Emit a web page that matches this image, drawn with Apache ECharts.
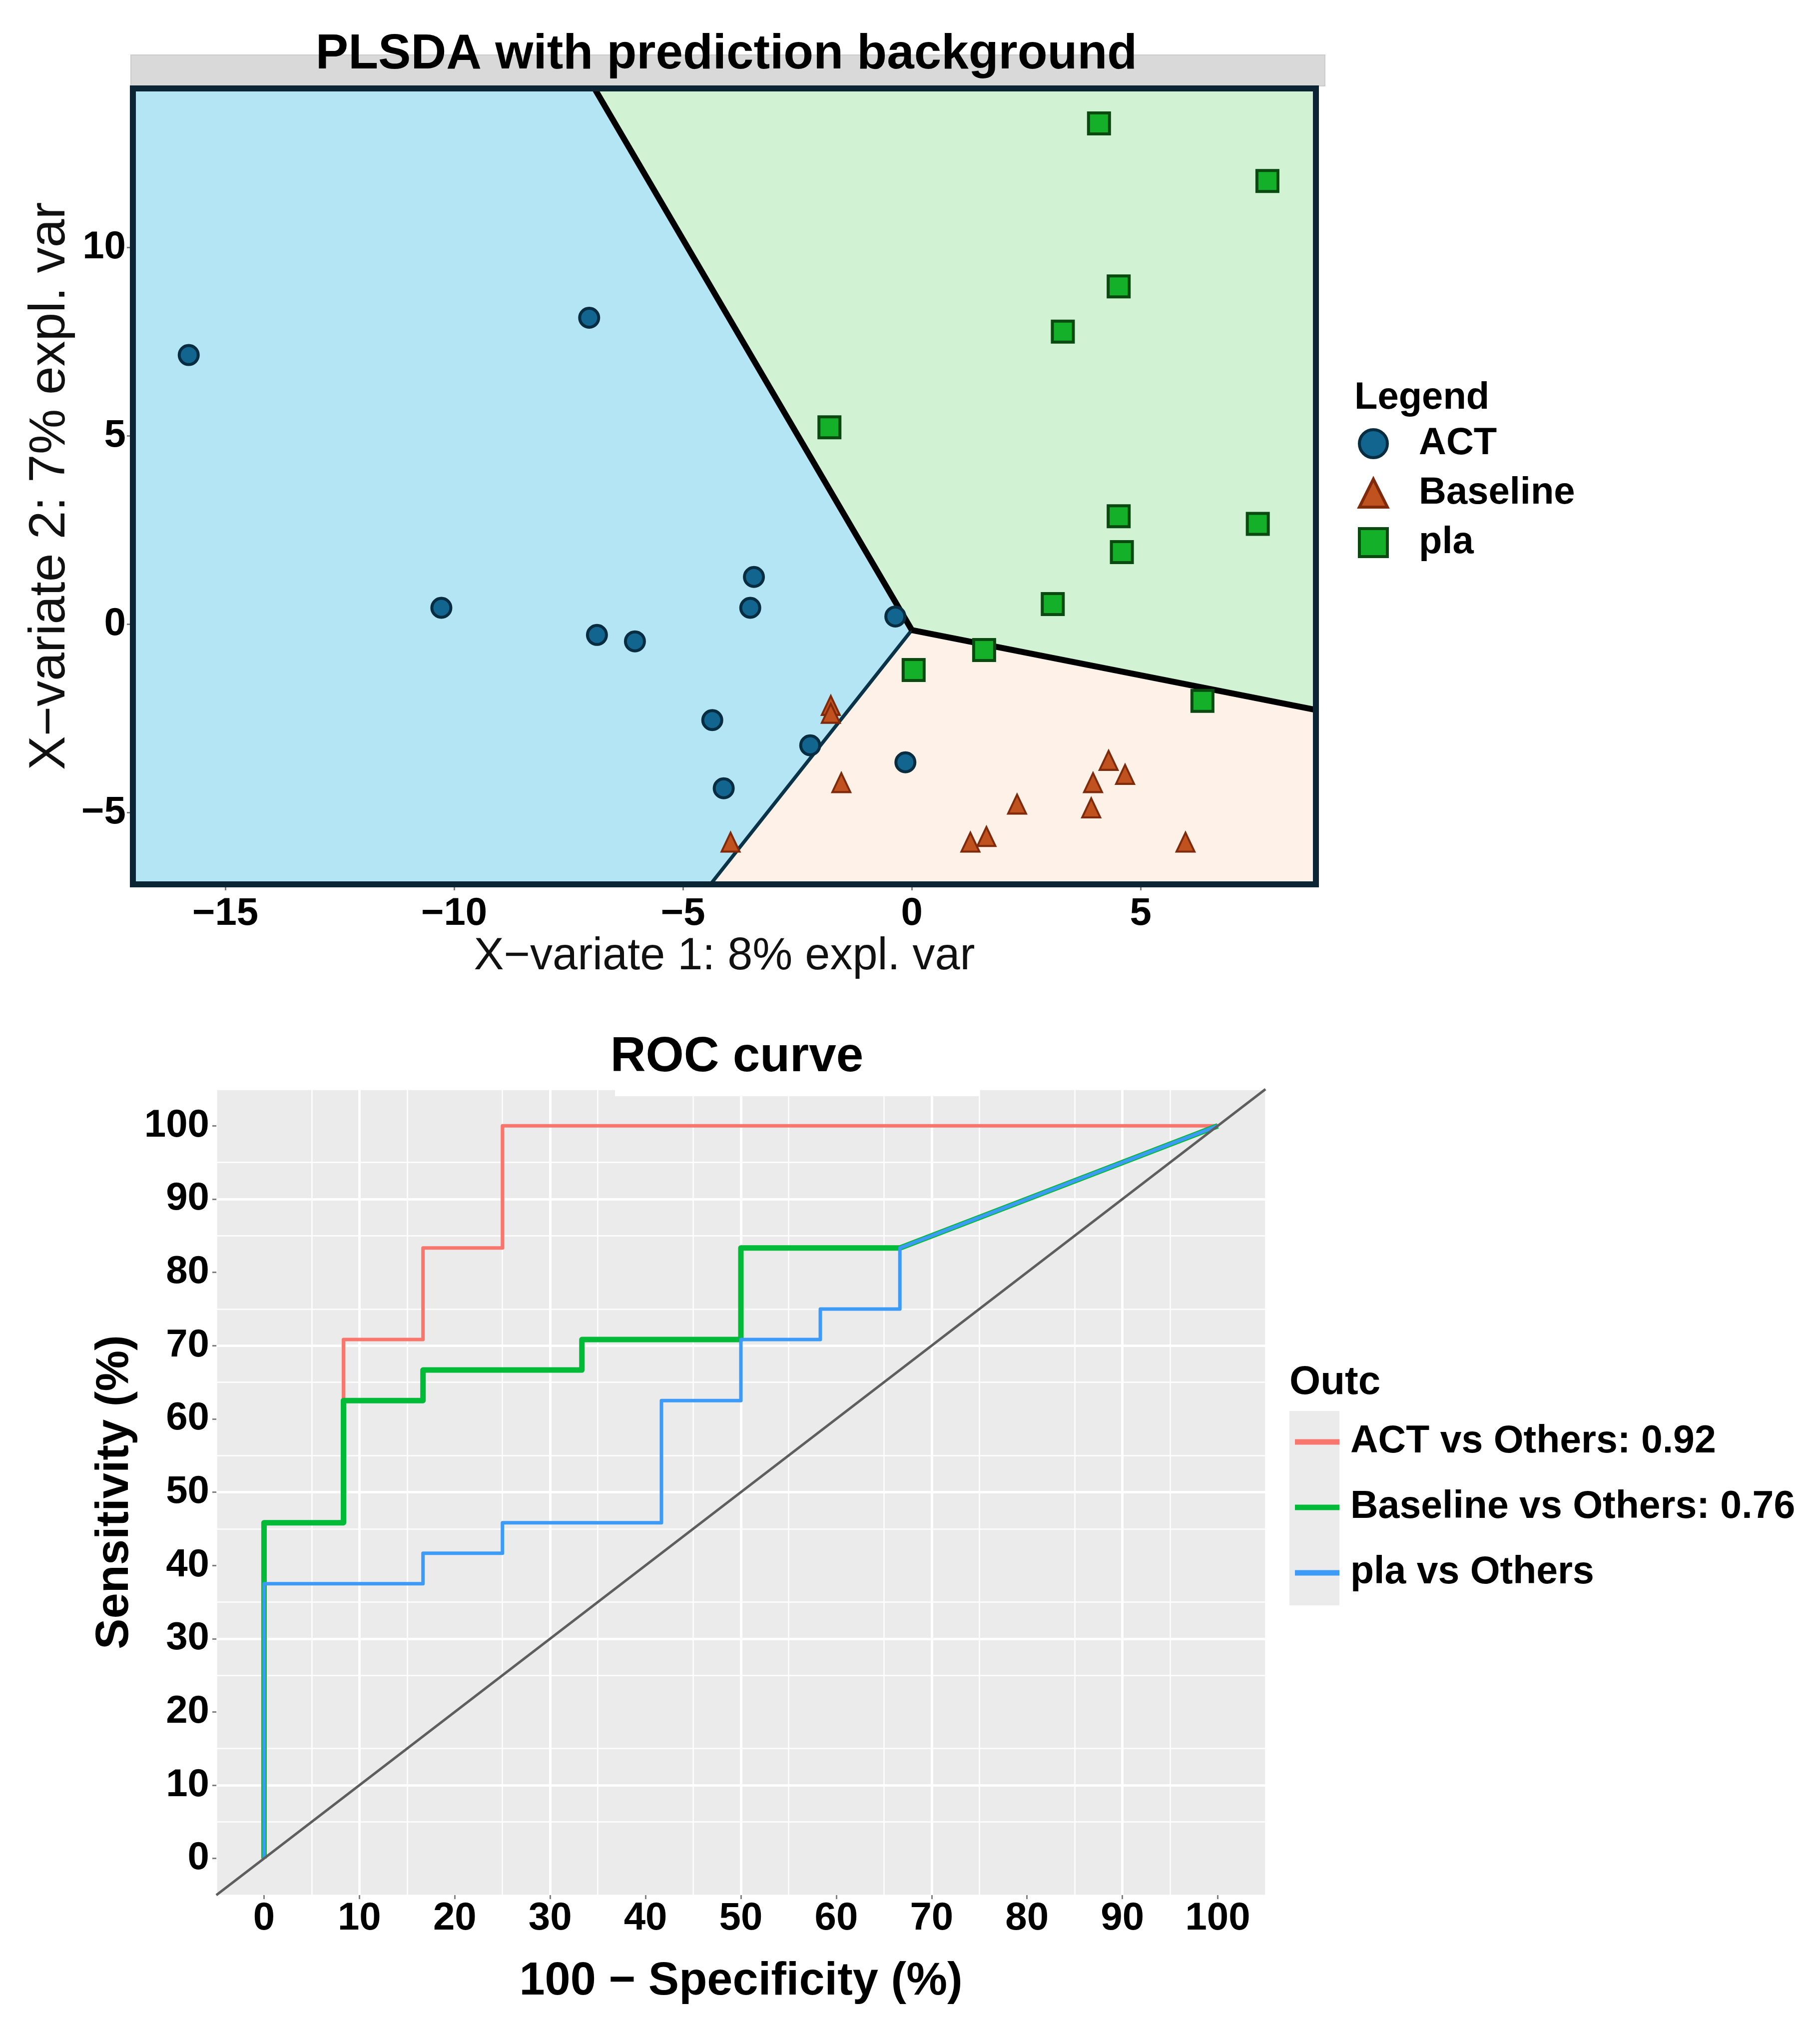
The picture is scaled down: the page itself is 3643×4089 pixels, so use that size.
<!DOCTYPE html>
<html><head><meta charset="utf-8">
<script src="https://cdn.jsdelivr.net/npm/echarts@6/dist/echarts.min.js"></script>
<style>html,body{margin:0;padding:0;background:#fff}#c{width:3643px;height:4089px}</style>
</head><body><div id="c"></div>
<script>
const FONT = '"Liberation Sans", Arial, Helvetica, sans-serif';

// ---------- PLSDA scores (X-variate 1, X-variate 2) ----------
const actPoints = [[-15.8,7.15],[-7.05,8.14],[-10.28,0.44],[-6.88,-0.28],[-6.05,-0.45],[-3.45,1.26],[-3.53,0.44],[-0.36,0.21],[-4.36,-2.54],[-2.22,-3.21],[-4.11,-4.35],[-0.14,-3.66]];
const baselinePoints = [[-1.77,-2.15],[-1.77,-2.36],[-1.54,-4.2],[-3.96,-5.78],[2.3,-4.77],[1.28,-5.78],[1.63,-5.63],[4.3,-3.61],[3.96,-4.2],[4.66,-3.98],[3.92,-4.87],[5.98,-5.78]];
const plaPoints = [[4.09,13.3],[7.77,11.77],[4.52,8.97],[3.3,7.77],[-1.8,5.23],[4.52,2.87],[7.56,2.67],[4.59,1.92],[3.08,0.54],[1.58,-0.68],[0.04,-1.21],[6.35,-2.03]];

// axis extents of the score plot
const pXMin = -17.02, pXMax = 8.83, pYMin = -6.9, pYMax = 14.24;
const pXTicks = [-15, -10, -5, 0, 5];
const pYTicks = [-5, 0, 5, 10];

// prediction background: boundary vertices
const vertex = [0, -0.15];
const topCross = [-6.94, pYMax];
const rightCross = [pXMax, -2.27];
const bottomCross = [-4.4, pYMin];
const actRegion = [[pXMin, pYMax], topCross, vertex, bottomCross, [pXMin, pYMin]];
const plaRegion = [topCross, [pXMax, pYMax], rightCross, vertex];
const baselineRegion = [vertex, rightCross, [pXMax, pYMin], bottomCross];

// ---------- ROC curves (100 - specificity, sensitivity) ----------
const actRoc = [[0,0],[0,45.83],[8.33,45.83],[8.33,70.83],[16.67,70.83],[16.67,83.33],[25,83.33],[25,100],[100,100]];
const baselineRoc = [[0,0],[0,45.83],[8.33,45.83],[8.33,62.5],[16.67,62.5],[16.67,66.67],[33.33,66.67],[33.33,70.83],[50,70.83],[50,83.33],[66.67,83.33],[100,100]];
const plaRoc = [[0,0],[0,37.5],[16.67,37.5],[16.67,41.67],[25,41.67],[25,45.83],[41.67,45.83],[41.67,62.5],[50,62.5],[50,70.83],[58.33,70.83],[58.33,75],[66.67,75],[66.67,83.33],[100,100]];
const diagonal = [[-5,-5],[105,105]];
const rocTicks = [0,10,20,30,40,50,60,70,80,90,100];
const rocNames = ['ACT vs Others: 0.92', 'Baseline vs Others: 0.76', 'pla vs Others'];

const minus = v => String(v).replace('-', '\u2212');

const regions = [
  {pts: actRegion, color: '#b3e5f5'},
  {pts: plaRegion, color: '#d1f2d3'},
  {pts: baselineRegion, color: '#fdf1e8'}
];

const chart = echarts.init(document.getElementById('c'), null, {renderer: 'canvas'});
const option = {
  animation: false,
  backgroundColor: '#ffffff',
  grid: [
    {left: 266, top: 176, width: 2368, height: 1594, show: false, outerBoundsMode: 'none', containLabel: false},
    {left: 433, top: 2180, width: 2100, height: 1613, show: true, backgroundColor: '#ebebeb', borderWidth: 0, outerBoundsMode: 'none', containLabel: false}
  ],
  xAxis: [
    {gridIndex: 0, type: 'value', min: pXMin, max: pXMax,
     axisLine: {show: false, onZero: false},
     axisTick: {show: true, customValues: pXTicks, length: 12, lineStyle: {color: '#808080', width: 3}},
     axisLabel: {customValues: pXTicks, formatter: minus, fontSize: 78, fontWeight: 'bold', color: '#000', fontFamily: FONT, margin: 20},
     splitLine: {show: false},
     name: 'X\u2212variate 1: 8% expl. var', nameLocation: 'middle', nameGap: 100,
     nameTextStyle: {fontSize: 90, fontFamily: FONT, color: '#111'}},
    {gridIndex: 1, type: 'value', min: -5, max: 105, interval: 5,
     axisLine: {show: false, onZero: false},
     axisTick: {show: true, customValues: rocTicks, length: 8, lineStyle: {color: '#808080', width: 3}},
     axisLabel: {customValues: rocTicks, fontSize: 78, fontWeight: 'bold', color: '#000', fontFamily: FONT, margin: 8},
     splitLine: {show: true, lineStyle: {color: ['rgba(255,255,255,0)', '#ffffff'], width: 5}},
     name: '100 \u2212 Specificity (%)', nameLocation: 'middle', nameGap: 128,
     nameTextStyle: {fontSize: 92, fontWeight: 'bold', fontFamily: FONT, color: '#000'}},
    {gridIndex: 1, type: 'value', min: -5, max: 105, interval: 5, position: 'bottom',
     axisLine: {show: false, onZero: false}, axisTick: {show: false}, axisLabel: {show: false},
     splitLine: {show: true, lineStyle: {color: ['#ffffff', 'rgba(255,255,255,0)'], width: 2.5}}}
  ],
  yAxis: [
    {gridIndex: 0, type: 'value', min: pYMin, max: pYMax,
     axisLine: {show: false, onZero: false},
     axisTick: {show: true, customValues: pYTicks, length: 12, lineStyle: {color: '#808080', width: 3}},
     axisLabel: {customValues: pYTicks, formatter: minus, fontSize: 78, fontWeight: 'bold', color: '#000', fontFamily: FONT, margin: 14},
     splitLine: {show: false},
     name: 'X\u2212variate 2: 7% expl. var', nameLocation: 'middle', nameGap: 105,
     nameTextStyle: {fontSize: 102, fontFamily: FONT, color: '#111'}},
    {gridIndex: 1, type: 'value', min: -5, max: 105, interval: 5,
     axisLine: {show: false, onZero: false},
     axisTick: {show: true, customValues: rocTicks, length: 8, lineStyle: {color: '#808080', width: 3}},
     axisLabel: {customValues: rocTicks, fontSize: 78, fontWeight: 'bold', color: '#000', fontFamily: FONT, margin: 14},
     splitLine: {show: true, lineStyle: {color: ['rgba(255,255,255,0)', '#ffffff'], width: 5}},
     name: 'Sensitivity (%)', nameLocation: 'middle', nameGap: 156,
     nameTextStyle: {fontSize: 92, fontWeight: 'bold', fontFamily: FONT, color: '#000'}},
    {gridIndex: 1, type: 'value', min: -5, max: 105, interval: 5, position: 'left',
     axisLine: {show: false, onZero: false}, axisTick: {show: false}, axisLabel: {show: false},
     splitLine: {show: true, lineStyle: {color: ['#ffffff', 'rgba(255,255,255,0)'], width: 2.5}}}
  ],
  legend: [
    {data: ['ACT', 'Baseline', 'pla'], orient: 'vertical', left: 2718, top: 848, padding: 0,
     itemWidth: 56, itemHeight: 56, itemGap: 19, selectedMode: false, symbolKeepAspect: true,
     itemStyle: {borderWidth: 6},
     textStyle: {fontSize: 76, fontWeight: 'bold', fontFamily: FONT, color: '#000', lineHeight: 80, padding: [0, 0, 0, 58]}},
    {data: rocNames, orient: 'vertical', left: 2592, top: 2846, padding: 0,
     itemWidth: 89, itemHeight: 11, itemGap: 51, icon: 'rect', symbolKeepAspect: false, selectedMode: false,
     textStyle: {fontSize: 77, fontWeight: 'bold', fontFamily: FONT, color: '#000', lineHeight: 80, padding: [0, 0, 0, 17]}}
  ],
  graphic: [
    {type: 'rect', z: 1, shape: {x: 262, y: 110, width: 2390, height: 62}, style: {fill: '#d9d9d9', stroke: '#cccccc', lineWidth: 2}},
    {type: 'rect', z: 100, shape: {x: 266, y: 177, width: 2368, height: 1593}, style: {fill: null, stroke: '#0b2535', lineWidth: 12}},
    {type: 'text', z: 110, x: 1454, y: 110, style: {text: 'PLSDA with prediction background', fill: '#000', fontSize: 98, fontWeight: 'bold', fontFamily: FONT, align: 'center', verticalAlign: 'middle'}},
    {type: 'text', z: 110, x: 2711, y: 797, style: {text: 'Legend', fill: '#000', fontSize: 76, fontWeight: 'bold', fontFamily: FONT, align: 'left', verticalAlign: 'middle'}},
    {type: 'rect', z: 3, shape: {x: 1231, y: 2172, width: 729, height: 22}, style: {fill: '#ffffff'}},
    {type: 'text', z: 110, x: 1475, y: 2117, style: {text: 'ROC curve', fill: '#000', fontSize: 98, fontWeight: 'bold', fontFamily: FONT, align: 'center', verticalAlign: 'middle'}},
    {type: 'rect', z: 1, shape: {x: 2581, y: 2824, width: 100, height: 389}, style: {fill: '#ebebeb'}},
    {type: 'text', z: 110, x: 2581, y: 2768, style: {text: 'Outc', fill: '#000', fontSize: 80, fontWeight: 'bold', fontFamily: FONT, align: 'left', verticalAlign: 'middle'}}
  ],
  series: [
    {type: 'custom', name: 'regions', xAxisIndex: 0, yAxisIndex: 0, silent: true, clip: true, z: 1,
     data: regions.map((r, i) => [i]),
     renderItem: (params, api) => {
       const r = regions[params.dataIndex];
       return {type: 'polygon', shape: {points: r.pts.map(p => api.coord(p))}, style: {fill: r.color, stroke: r.color, lineWidth: 1}};
     }},
    {type: 'line', name: 'b1', xAxisIndex: 0, yAxisIndex: 0, data: [vertex, bottomCross], symbol: 'none', silent: true, z: 2,
     lineStyle: {color: '#0a3347', width: 7}},
    {type: 'line', name: 'b2', xAxisIndex: 0, yAxisIndex: 0, data: [vertex, topCross], symbol: 'none', silent: true, z: 2,
     lineStyle: {color: '#000000', width: 12}},
    {type: 'line', name: 'b3', xAxisIndex: 0, yAxisIndex: 0, data: [vertex, rightCross], symbol: 'none', silent: true, z: 2,
     lineStyle: {color: '#000000', width: 12}},
    {type: 'scatter', name: 'ACT', xAxisIndex: 0, yAxisIndex: 0, data: actPoints, symbol: 'circle', symbolSize: 38, z: 3,
     itemStyle: {color: '#11658e', borderColor: '#082c40', borderWidth: 6, opacity: 1}},
    {type: 'scatter', name: 'Baseline', xAxisIndex: 0, yAxisIndex: 0, data: baselinePoints, symbol: 'triangle', symbolSize: [36, 38], z: 3,
     itemStyle: {color: '#c0521f', borderColor: '#7f2a0b', borderWidth: 4, opacity: 1}},
    {type: 'scatter', name: 'pla', xAxisIndex: 0, yAxisIndex: 0, data: plaPoints, symbol: 'rect', symbolSize: 42, z: 3,
     itemStyle: {color: '#14b02a', borderColor: '#0a4a10', borderWidth: 6, opacity: 1}},
    {type: 'line', name: rocNames[0], xAxisIndex: 1, yAxisIndex: 1, data: actRoc, symbol: 'none', z: 3,
     itemStyle: {color: '#F8766D'}, lineStyle: {color: '#F8766D', width: 7, join: 'round'}},
    {type: 'line', name: rocNames[1], xAxisIndex: 1, yAxisIndex: 1, data: baselineRoc, symbol: 'none', z: 3,
     itemStyle: {color: '#00BA38'}, lineStyle: {color: '#00BA38', width: 11, join: 'round'}},
    {type: 'line', name: rocNames[2], xAxisIndex: 1, yAxisIndex: 1, data: plaRoc, symbol: 'none', z: 3,
     itemStyle: {color: '#3d9bf7'}, lineStyle: {color: '#3d9bf7', width: 7, join: 'round'}},
    {type: 'line', name: 'diagonal', xAxisIndex: 1, yAxisIndex: 1, data: diagonal, symbol: 'none', silent: true, z: 3,
     lineStyle: {color: '#5e5e5e', width: 5}}
  ]
};
chart.setOption(option);
</script>
</body></html>
